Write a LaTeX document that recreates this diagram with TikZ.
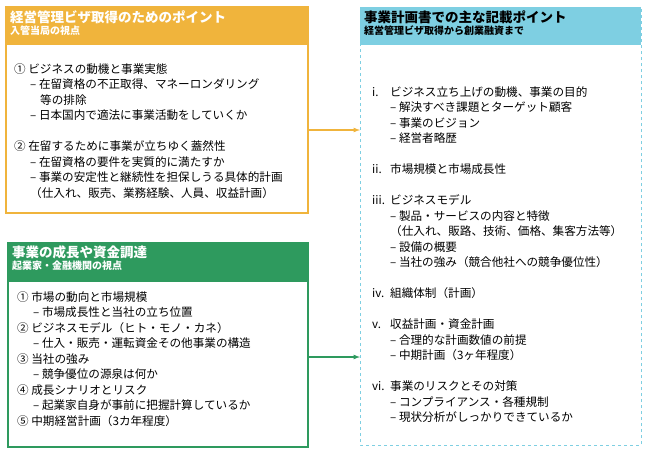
\documentclass[tikz,border=0pt]{standalone}
\usepackage{fontspec}
\setmainfont{Noto Sans CJK JP}
\usetikzlibrary{positioning,calc}
\definecolor{visaorange}{HTML}{F0B43C}
\definecolor{bizgreen}{HTML}{2E9A5E}
\definecolor{plancyan}{HTML}{7ECFE2}
\tikzset{
  head/.style={anchor=north west, inner xsep=4pt, inner ysep=3pt, text=white, align=left, minimum height=38pt},
  body/.style={anchor=north west, inner sep=0pt, align=left, font=\fontsize{11.6}{15.5}\selectfont},
  link/.style={->, >=latex, line width=1.2pt}
}
\newcommand{\htitle}[2]{{\fontsize{13.5}{16}\selectfont\bfseries #1}\\{\fontsize{10}{12}\selectfont\bfseries #2}}
\begin{document}
\begin{tikzpicture}[x=1pt, y=-1pt]
  \useasboundingbox (0,0) rectangle (647,450);
  % Left top
  \draw[visaorange, line width=1.2pt] (6,7) rectangle (308,213);
  \fill[visaorange] (6,7) rectangle (308,45);
  \node (visahead) [head, text width=290pt, minimum height=0pt] at (6,7) {\htitle{経営管理ビザ取得のためのポイント}{入管当局の視点}};
  \node (visabody) [body] at (14,63) {①\ ビジネスの動機と事業実態\\
  \hspace{16pt}– 在留資格の不正取得、マネーロンダリング\\
  \hspace{26pt}等の排除\\
  \hspace{16pt}– 日本国内で適法に事業活動をしていくか\\[15.5pt]
  ②\ 在留するために事業が立ちゆく蓋然性\\
  \hspace{16pt}– 在留資格の要件を実質的に満たすか\\
  \hspace{16pt}– 事業の安定性と継続性を担保しうる具体的計画\\
  \hspace{16pt}（仕入れ、販売、業務経験、人員、収益計画）};
  % Left bottom
  \draw[bizgreen, line width=1.2pt] (8,243) rectangle (308,447);
  \fill[bizgreen] (8,243) rectangle (308,282);
  \node (bizhead) [head, text width=290pt, minimum height=0pt] at (8,243) {\htitle{事業の成長や資金調達}{起業家・金融機関の視点}};
  \node (bizbody) [body] at (17,291) {①\ 市場の動向と市場規模\\
  \hspace{16pt}– 市場成長性と当社の立ち位置\\
  ②\ ビジネスモデル（ヒト・モノ・カネ）\\
  \hspace{16pt}– 仕入・販売・運転資金その他事業の構造\\
  ③\ 当社の強み\\
  \hspace{16pt}– 競争優位の源泉は何か\\
  ④\ 成長シナリオとリスク\\
  \hspace{16pt}– 起業家自身が事前に把握計算しているか\\
  ⑤\ 中期経営計画（3カ年程度）};
  % Right
  \draw[plancyan, line width=1pt, dashed] (360,7) rectangle (641,445);
  \fill[plancyan] (360,7) rectangle (641,45);
  \node (planhead) [head, text=black, text width=272pt, minimum height=0pt] at (360,7) {\htitle{事業計画書での主な記載ポイント}{経営管理ビザ取得から創業融資まで}};
  \node (planbody) [body] at (372,85) {\begin{tabular}{@{}p{18pt}@{}l@{}}
  i. & ビジネス立ち上げの動機、事業の目的\\
     & – 解決すべき課題とターゲット顧客\\
     & – 事業のビジョン\\
     & – 経営者略歴\\[15.5pt]
  ii. & 市場規模と市場成長性\\[15.5pt]
  iii. & ビジネスモデル\\
     & – 製品・サービスの内容と特徴\\
     & （仕入れ、販路、技術、価格、集客方法等）\\
     & – 設備の概要\\
     & – 当社の強み（競合他社への競争優位性）\\[15.5pt]
  iv. & 組織体制（計画）\\[15.5pt]
  v. & 収益計画・資金計画\\
     & – 合理的な計画数値の前提\\
     & – 中期計画（3ヶ年程度）\\[15.5pt]
  vi. & 事業のリスクとその対策\\
     & – コンプライアンス・各種規制\\
     & – 現状分析がしっかりできているか
  \end{tabular}};
  % Arrows
  \coordinate (visaout) at (308,130);
  \coordinate (bizout) at (308,357);
  \draw[link, visaorange] (visaout) -- (visaout -| planhead.west);
  \draw[link, bizgreen] (bizout) -- (bizout -| planhead.west);
\end{tikzpicture}
\end{document}
